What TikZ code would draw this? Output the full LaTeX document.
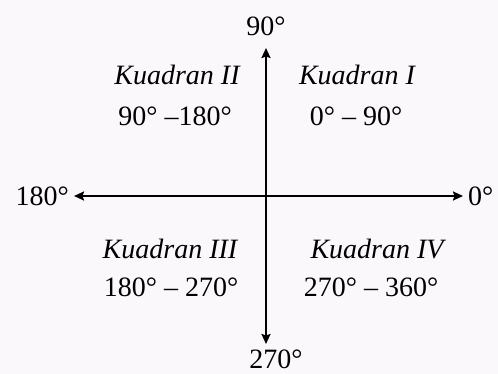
\documentclass[tikz,border=0pt]{standalone}
\usepackage{fontspec}
\setmainfont{Liberation Serif}
\usetikzlibrary{arrows.meta}
\definecolor{bgpaper}{RGB}{250,248,250}
\tikzset{
  lbl/.style={inner sep=0pt, font=\fontsize{28}{32}\selectfont},
  kuad/.style={lbl, font=\fontsize{28}{32}\selectfont\itshape},
  axis/.style={line width=2pt, -{Stealth[length=10pt,width=9pt,inset=1.5pt]}}
}
\begin{document}
\begin{tikzpicture}[x=1pt,y=1pt]
		\fill[bgpaper] (0,0) rectangle (498,374);
		\useasboundingbox (0,0) rectangle (498,374);
		\coordinate (o) at (266,178);
		\coordinate (top) at (266,326);
		\coordinate (bot) at (266,30);
		\coordinate (lft) at (74,178);
		\coordinate (rgt) at (463,178);
		\draw[axis] (o) -- (top);
		\draw[axis] (o) -- (bot);
		\draw[axis] (o) -- (lft);
		\draw[axis] (o) -- (rgt);
		\node[lbl] (d90) at (266,348){90°};
		\node[lbl, anchor=east] (d180) at (69,178){180°};
		\node[lbl, anchor=west] (d0) at (468,178){0°};
		\node[lbl] (d270) at (276,15){270°};
		\node[kuad] (k2) at (177,299){Kuadran II};
		\node[lbl] (r2) at (175,258){90° –180°};
		\node[kuad] (k1) at (357,299){Kuadran I};
		\node[lbl] (r1) at (356,258){0° – 90°};
		\node[kuad] (k3) at (170,125){Kuadran III};
		\node[lbl] (r3) at (171,87){180° – 270°};
		\node[kuad] (k4) at (377,125){Kuadran IV};
		\node[lbl] (r4) at (371,87){270° – 360°};
		\end{tikzpicture}
\end{document}
